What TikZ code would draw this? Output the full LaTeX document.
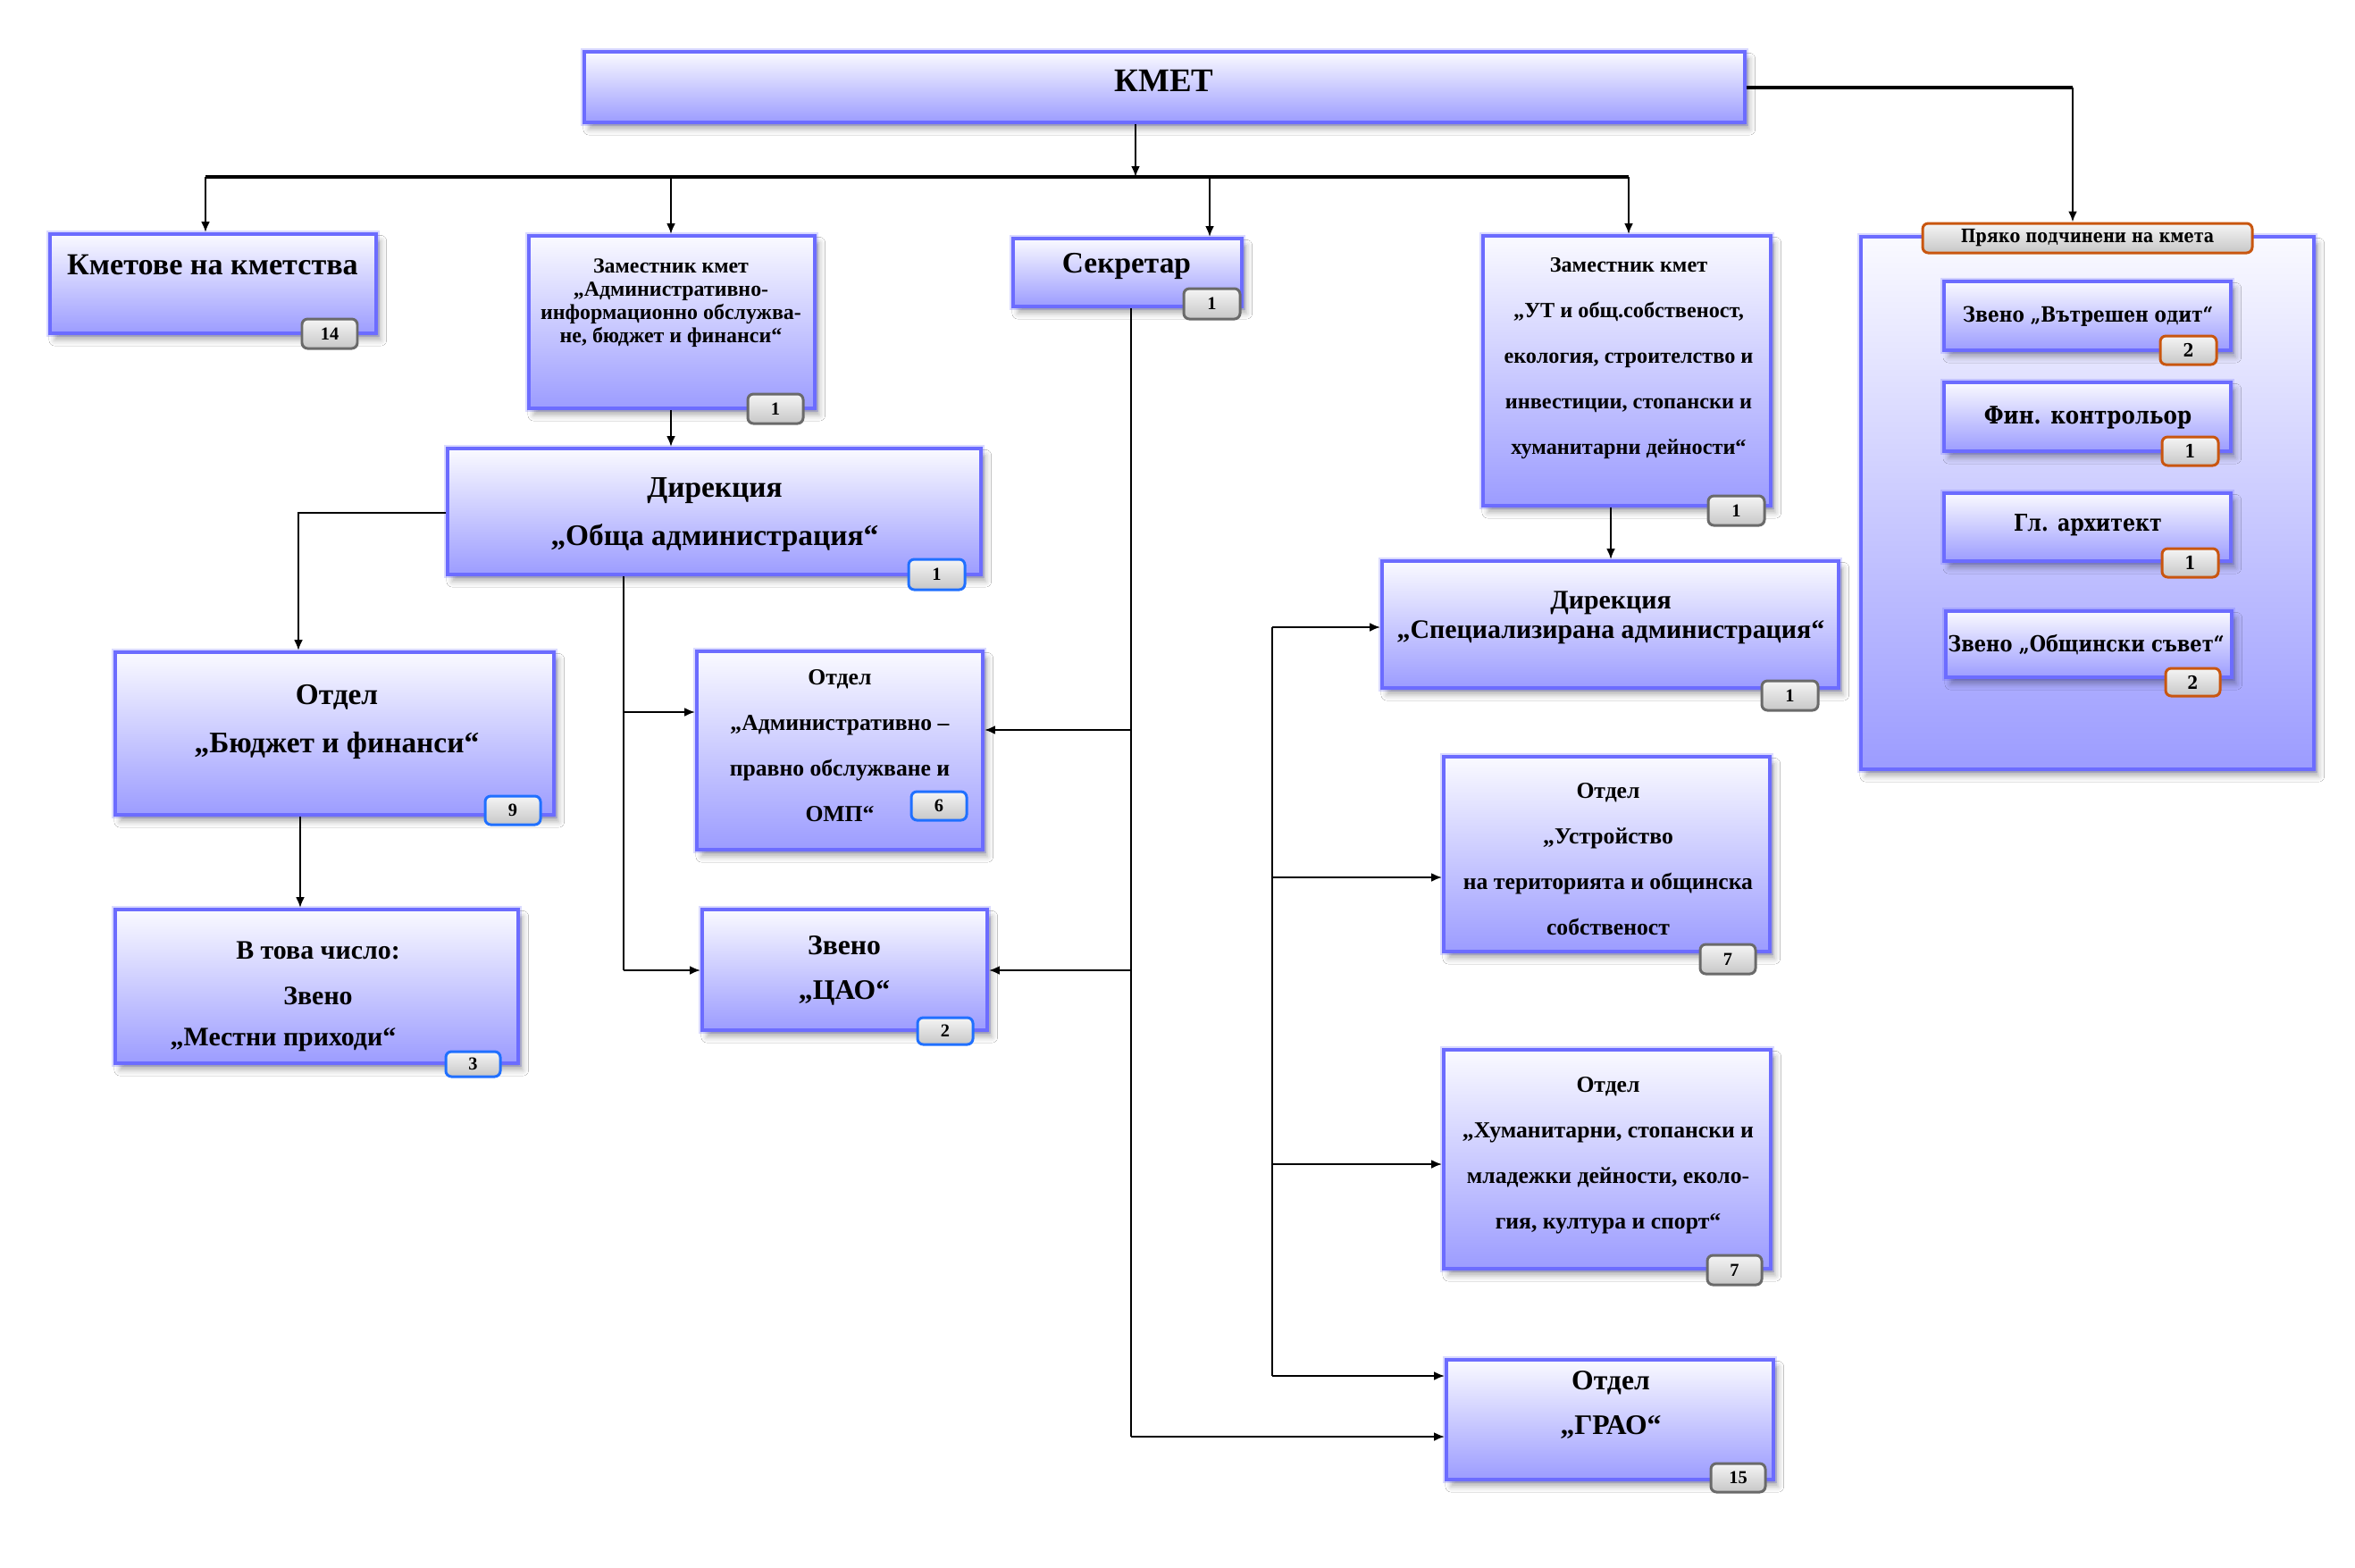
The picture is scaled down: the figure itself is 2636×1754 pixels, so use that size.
\documentclass[tikz,border=0pt]{standalone}
\usepackage{fontspec}
\setmainfont{Liberation Serif}
\newfontfamily\rpfont[FakeStretch=0.85]{DejaVu Serif}
\usetikzlibrary{arrows.meta,fit,shadows.blur}
\definecolor{boxedge}{HTML}{6C6CFF}
\definecolor{boxtop}{HTML}{FAFAFF}
\definecolor{boxbot}{HTML}{9C9CFF}
\definecolor{badgeedge}{HTML}{6A6A6A}
\definecolor{badgeorange}{HTML}{C9560F}
\definecolor{badgeblue}{HTML}{2070FF}
\newcommand\fsz[2]{\fontsize{#1}{#2}\selectfont\bfseries}
\begin{document}
\begin{tikzpicture}[x=0.01cm,y=-0.01cm,
  box/.style={draw=boxedge, line width=1.1pt, top color=boxtop, bottom color=boxbot,
    inner sep=0pt,
    preaction={draw=boxedge, line width=2.4pt, draw opacity=0.25},
    blur shadow={shadow xshift=1.5pt, shadow yshift=-2.2pt, shadow blur radius=1.8pt, shadow opacity=30}},
  badge/.style={draw=badgeedge, line width=0.85pt, rounded corners=1.8pt,
    top color=black!4, bottom color=black!22, inner sep=0pt},
  obadge/.style={badge, draw=badgeorange},
  bbadge/.style={badge, draw=badgeblue},
  btxt/.style={inner sep=0pt, font=\fsz{5.8}{6}},
  obtxt/.style={inner sep=0pt, font=\rpfont\fsz{5.8}{6}},
  txt/.style={inner sep=0pt, align=center},
  conn/.style={line width=0.6pt},
  bus/.style={line width=1.1pt},
  arr/.style={conn, -{Latex[length=3.4pt,width=2.8pt]}}
]
\fill[white] (0,0) rectangle (2636,1754);
\useasboundingbox (0,0) rectangle (2636,1754);

% ---------- boxes ----------
\node[box, fit={(654,58) (1953,137)}] (kmet) {};
\node[box, fit={(56,262) (421,373)}] (kmetstva) {};
\node[box, fit={(592,264) (912,457)}] (zam1) {};
\node[box, fit={(1134,267) (1390,343)}] (sekr) {};
\node[box, fit={(1660,264) (1982,566)}] (zam2) {};
\node[box, fit={(2083,265) (2590,861)}] (panel) {};
\node[box, fit={(2176,315) (2497,392)}] (vo) {};
\node[box, fit={(2176,428) (2497,505)}] (fk) {};
\node[box, fit={(2176,552) (2497,628)}] (ga) {};
\node[box, fit={(2178,684) (2498,758)}] (os) {};
\node[box, fit={(501,502) (1098,643)}] (oa) {};
\node[box, fit={(129,730) (620,912)}] (bf) {};
\node[box, fit={(129,1018) (580,1190)}] (mp) {};
\node[box, fit={(780,729) (1100,951)}] (ap) {};
\node[box, fit={(786,1018) (1105,1153)}] (cao) {};
\node[box, fit={(1547,628) (2058,770)}] (spec) {};
\node[box, fit={(1616,847) (1981,1065)}] (ust) {};
\node[box, fit={(1616,1175) (1982,1420)}] (hum) {};
\node[box, fit={(1619,1522) (1985,1656)}] (grao) {};

% title of the panel
\node[obadge, fit={(2152,250) (2521,283)}] (title) {};
\node[inner sep=0pt, font=\rpfont\fsz{5.9}{6}] (ttitle) at (title.center) {Пряко подчинени на кмета};

% ---------- texts ----------
\node[txt, font=\fsz{10.5}{12}] (tkmet) at (1303,90) {КМЕТ};
\node[txt, font=\fsz{9.7}{11}] (tkmetstva) at (238,296) {Кметове на кметства};
\node[txt, font=\fsz{6.8}{7.4}] (tzam1) at (751,339) {Заместник кмет\\„Административно-\\информационно обслужва-\\не, бюджет и финанси“};
\node[txt, font=\fsz{9.5}{11}] (tsekr) at (1261,298) {Секретар};
\node[txt, font=\fsz{6.9}{14.5}] (tzam2) at (1823,401) {Заместник кмет\\„УТ и общ.собственост,\\екология, строителство и\\инвестиции, стопански и\\хуманитарни дейности“};
\node[txt, font=\rpfont\fsz{6.7}{8}] (tvo) at (2337,354) {Звено „Вътрешен одит“};
\node[txt, font=\rpfont\fsz{7.7}{9}] (tfk) at (2337,467) {Фин. контрольор};
\node[txt, font=\rpfont\fsz{7.4}{9}] (tga) at (2337,588) {Гл. архитект};
\node[txt, font=\rpfont\fsz{7}{8}] (tos) at (2335,722) {Звено „Общински съвет“};
\node[txt, font=\fsz{9.5}{15.4}] (toa) at (800,576) {Дирекция\\„Обща администрация“};
\node[txt, font=\fsz{9.5}{15.1}] (tbf) at (377,808) {Отдел\\„Бюджет и финанси“};
\node[txt, font=\fsz{8.5}{14.5}] (tmp) at (356,1089) {В това число:\\Звено};
\node[txt, font=\fsz{8.5}{10}] (tmp2) at (317,1164) {„Местни приходи“};
\node[txt, font=\fsz{7.3}{14.5}] (tap) at (940,835) {Отдел\\„Административно –\\правно обслужване и\\ОМП“};
\node[txt, font=\fsz{9}{14.2}] (tcao) at (945,1086) {Звено\\„ЦАО“};
\node[txt, font=\fsz{8.5}{9.4}] (tspec) at (1803,691) {Дирекция\\„Специализирана администрация“};
\node[txt, font=\fsz{7.3}{14.5}] (tust) at (1800,962) {Отдел\\„Устройство\\на територията и общинска\\собственост};
\node[txt, font=\fsz{7.3}{14.5}] (thum) at (1800,1293) {Отдел\\„Хуманитарни, стопански и\\младежки дейности, еколо-\\гия, култура и спорт“};
\node[txt, font=\fsz{9}{14.2}] (tgrao) at (1803,1572) {Отдел\\„ГРАО“};

% ---------- badges ----------
\node[badge, fit={(338,357) (400,390)}] (n14) {};
\node[badge, fit={(837,441) (899,474)}] (nzam1) {};
\node[badge, fit={(1325,323) (1388,357)}] (nsekr) {};
\node[badge, fit={(1912,555) (1975,588)}] (nzam2) {};
\node[obadge, fit={(2418,376) (2481,408)}] (nvo) {};
\node[obadge, fit={(2420,489) (2483,521)}] (nfk) {};
\node[obadge, fit={(2420,614) (2483,646)}] (nga) {};
\node[obadge, fit={(2424,748) (2485,779)}] (nos) {};
\node[bbadge, fit={(1017,626) (1080,660)}] (noa) {};
\node[bbadge, fit={(543,891) (605,923)}] (nbf) {};
\node[bbadge, fit={(499,1177) (560,1205)}] (nmp) {};
\node[bbadge, fit={(1020,886) (1082,918)}] (nap) {};
\node[bbadge, fit={(1027,1139) (1089,1169)}] (ncao) {};
\node[badge, fit={(1972,762) (2035,795)}] (nspec) {};
\node[badge, fit={(1903,1057) (1965,1090)}] (nust) {};
\node[badge, fit={(1911,1405) (1972,1438)}] (nhum) {};
\node[badge, fit={(1915,1638) (1976,1670)}] (ngrao) {};

\node[btxt] (v14) at (n14.center) {14};
\node[btxt] (vzam1) at (nzam1.center) {1};
\node[btxt] (vsekr) at (nsekr.center) {1};
\node[btxt] (vzam2) at (nzam2.center) {1};
\node[obtxt] (vvo) at (nvo.center) {2};
\node[obtxt] (vfk) at (nfk.center) {1};
\node[obtxt] (vga) at (nga.center) {1};
\node[obtxt] (vos) at (nos.center) {2};
\node[btxt] (voa) at (noa.center) {1};
\node[btxt] (vbf) at (nbf.center) {9};
\node[btxt] (vmp) at (nmp.center) {3};
\node[btxt] (vap) at (nap.center) {6};
\node[btxt] (vcao) at (ncao.center) {2};
\node[btxt] (vspec) at (nspec.center) {1};
\node[btxt] (vust) at (nust.center) {7};
\node[btxt] (vhum) at (nhum.center) {7};
\node[btxt] (vgrao) at (ngrao.center) {15};

% ---------- connectors ----------
\coordinate (jb) at (1271,198);
\coordinate (bl) at (230,198);
\coordinate (b2) at (751,198);
\coordinate (b3) at (1354,198);
\coordinate (br) at (1823,198);
\draw[arr] (kmet.south -| jb) -- (jb);
\draw[bus] (bl) -- (br);
\draw[arr] (bl) -- (kmetstva.north -| bl);
\draw[arr] (b2) -- (zam1.north -| b2);
\draw[arr] (b3) -- (sekr.north -| b3);
\draw[arr] (br) -- (zam2.north -| br);

\coordinate (kr) at (2320,98);
\draw[bus] (kmet.east |- kr) -- (kr);
\draw[arr] (kr) -- (title.north -| kr);

\draw[arr] (zam1.south -| b2) -- (oa.north -| b2);

\coordinate (ol) at (334,574);
\draw[arr] (oa.west |- ol) -| (bf.north -| ol);
\coordinate (bm) at (336,912);
\draw[arr] (bf.south -| bm) -- (mp.north -| bm);

\coordinate (ob) at (698,643);
\coordinate (oap) at (698,797);
\coordinate (ocao) at (698,1086);
\draw[conn] (oa.south -| ob) -- (ocao);
\draw[arr] (oap) -- (ap.west |- oap);
\draw[arr] (ocao) -- (cao.west |- ocao);

\coordinate (sap) at (1266,817);
\coordinate (scao) at (1266,1086);
\coordinate (sgr) at (1266,1608);
\draw[conn] (sekr.south -| sap) -- (sgr);
\draw[arr] (sap) -- (ap.east |- sap);
\draw[arr] (scao) -- (cao.east |- scao);
\draw[arr] (sgr) -- (grao.west |- sgr);

\coordinate (zs) at (1803,566);
\draw[arr] (zam2.south -| zs) -- (spec.north -| zs);

\coordinate (l1) at (1424,702);
\coordinate (l2) at (1424,982);
\coordinate (l3) at (1424,1303);
\coordinate (l4) at (1424,1540);
\draw[conn] (l1) -- (l4);
\draw[arr] (l1) -- (spec.west |- l1);
\draw[arr] (l2) -- (ust.west |- l2);
\draw[arr] (l3) -- (hum.west |- l3);
\draw[arr] (l4) -- (grao.west |- l4);
\end{tikzpicture}
\end{document}
